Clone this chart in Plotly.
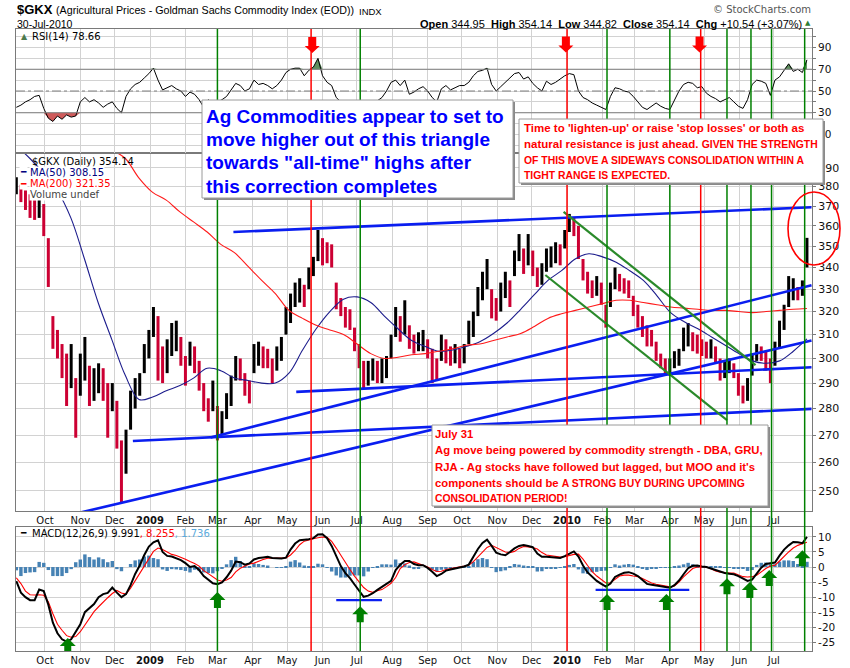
import math
import pandas as pd
import plotly.graph_objects as go

# ------------------------------------------------------------------ data
bar_dates = pd.date_range("2008-09-06", "2010-07-30", periods=174)

price_hi = [
    385, 381, 378, 376, 373, 374, 371, 354, 318, 312,
    306, 302, 306, 292, 302, 309, 297, 296, 298, 296,
    290, 290, 283, 268, 272, 287, 292, 294, 306, 312,
    322, 318, 305, 308, 315, 316, 309, 301, 307, 305,
    299, 290, 284, 291, 281, 279, 286, 293, 301, 300,
    294, 291, 306, 307, 305, 304, 300, 305, 309, 322,
    328, 333, 335, 332, 340, 345, 358, 354, 352, 351,
    333, 326, 322, 321, 313, 306, 299, 299, 300, 299,
    300, 301, 310, 322, 318, 325, 314, 310, 311, 312,
    308, 304, 300, 310, 308, 305, 306, 304, 306, 316,
    320, 331, 338, 344, 330, 326, 333, 338, 334, 348,
    356, 349, 356, 348, 340, 342, 349, 350, 352, 351,
    358, 366, 364, 360, 344, 338, 334, 336, 333, 323,
    333, 340, 337, 335, 334, 327, 323, 318, 314, 312,
    307, 302, 300, 300, 303, 304, 313, 315, 311, 310,
    308, 307, 308, 305, 300, 299, 300, 298, 294, 289,
    292, 302, 306, 305, 303, 300, 307, 316, 323, 336,
    335, 331, 334, 354.14,
]
price_lo = [
    376, 372, 368, 364, 363, 364, 355, 331, 304, 300,
    292, 281, 288, 269, 285, 291, 281, 283, 286, 283,
    269, 279, 265, 246, 256, 272, 280, 285, 294, 300,
    309, 291, 290, 294, 301, 303, 297, 289, 297, 294,
    287, 279, 275, 279, 268, 270, 276, 281, 291, 291,
    285, 282, 294, 297, 296, 296, 290, 295, 299, 310,
    315, 322, 324, 322, 330, 336, 343, 341, 342, 340,
    321, 318, 313, 312, 303, 296, 288, 289, 291, 290,
    290, 292, 300, 309, 307, 310, 304, 302, 303, 303,
    300, 290, 291, 299, 298, 297, 298, 296, 298, 306,
    309, 318, 325, 330, 317, 316, 320, 326, 322, 336,
    343, 337, 341, 336, 331, 332, 338, 340, 342, 341,
    349, 357, 355, 344, 334, 328, 326, 327, 323, 313,
    322, 330, 329, 328, 326, 318, 313, 309, 305, 305,
    299, 296, 293, 293, 296, 297, 303, 305, 303, 302,
    301, 300, 300, 298, 291, 292, 294, 292, 285, 282,
    283, 293, 299, 299, 295, 290, 297, 304, 312, 322,
    325, 325, 327, 340,
]
rsi14 = [
    35, 37, 40, 42, 45, 46, 34, 25, 22, 27,
    24, 28, 26, 27, 40, 44, 40, 42, 39, 35,
    38, 40, 34, 30, 45, 52, 56, 58, 62, 66,
    71, 60, 51, 53, 55, 52, 50, 45, 49, 47,
    42, 35, 42, 38, 40, 42, 45, 51, 57, 55,
    50, 52, 60, 56, 57, 55, 52, 55, 60, 67,
    70, 71, 71, 64, 69, 72, 80, 64, 58, 55,
    44, 40, 38, 36, 34, 32, 30, 33, 37, 41,
    44, 50, 58, 60, 55, 60, 47, 49, 52, 54,
    50, 44, 40, 52, 55, 51, 53, 55, 55, 58,
    64, 68, 69, 71, 56, 50, 54, 58, 62, 66,
    67, 61, 63, 57, 53, 50, 59, 56, 58, 61,
    64, 66, 65, 50, 44, 42, 39, 37, 35, 33,
    45, 53, 52, 50, 49, 45, 40, 35, 33, 36,
    39, 36, 34, 33, 42, 50, 56, 58, 57, 53,
    54, 48, 45, 43, 40, 42, 44, 40, 36, 34,
    42, 56, 60, 59, 57, 46, 60, 63, 69, 75,
    68, 70, 67, 78.66,
]
macd_line = [
    -4.7, -8.5, -10, -11, -11, -7.5, -8, -12.5, -18.5, -22,
    -24, -24.8, -24, -21.5, -19, -15, -13.5, -12.3, -10, -9,
    -8.6, -6.8, -8.5, -10, -9, -6, -2.3, 0.5, 4, 6.8,
    8.2, 8.9, 5, 3.7, 3.5, 3, 2.3, 1.3, 0, 0.3,
    -1, -3, -4.2, -5.4, -5.7, -5.1, -3.4, -1.2, 1.8, 1.6,
    0.8, 1.2, 2.5, 3, 3.2, 3.4, 3, 2.9, 2.8, 3.1,
    5.8, 7.8, 8.9, 9.1, 9.2, 9.6, 10.8, 10.9, 9.6, 7,
    3.5, 0.3, -2, -3.7, -5.8, -7.8, -9.9, -9.5, -8.7, -7.6,
    -6.6, -5.6, -4.6, -1, 0.8, 2, 2, 1, 0.6, 0.6,
    -0.3, -1.6, -3, -2.3, -1.2, -0.8, -0.5, -0.3, 0.2, 0.8,
    3.5, 6, 8, 9.1, 7, 4.8, 4.2, 3.9, 5, 6.2,
    7, 7.3, 7, 6.6, 4.5, 3.4, 3.4, 3.3, 3, 3,
    3.6, 4.5, 5.2, 3.5, 0.5, -1.8, -3.2, -4.6, -5.6, -6.5,
    -5.5, -3.3, -2.5, -1.9, -1.7, -2.2, -3, -4.3, -5.6, -5.9,
    -6.1, -6.3, -6.7, -6.9, -6, -4.5, -2.4, -0.4, 0.4, 0.5,
    0.2, 0, -0.5, -1, -1.5, -2, -2.2, -2.4, -3, -3.8,
    -4.6, -4.2, -2, -0.2, 1, 1.2, 1.5, 3.8, 5.8, 7.2,
    8.3, 8.2, 7.9, 9.991,
]
macd_signal = [
    -3.6, -5.5, -8, -9.2, -9.3, -9.2, -9.4, -11.5, -15.5, -19,
    -21, -22.8, -23.3, -23.1, -21.5, -19.2, -16.8, -14.8, -13.2, -11.6,
    -10.2, -8.8, -7.8, -8.6, -9, -7, -4.5, -2, 0.5, 3,
    5.2, 6.3, 5.8, 5, 4.2, 3.8, 3.3, 2.6, 1.8, 1.2,
    0.3, -1.2, -2.2, -3.3, -4.3, -4.7, -4.3, -3.5, -1.6, -0.4,
    0.4, 1, 1.3, 2, 2.5, 2.9, 3, 3, 3, 3,
    4, 5.5, 7.4, 8.6, 9.1, 9.4, 9.7, 10, 9.9, 8.5,
    6.3, 3.8, 1.5, -0.8, -3, -5, -6.8, -8, -8.4, -7.9,
    -7.5, -6.5, -5.4, -3.5, -0.5, 0.8, 1.5, 1.7, 1.2, 0.6,
    0, -0.8, -1.5, -1.4, -0.8, -0.5, -0.2, 0, 0.3, 0.6,
    1.8, 3.4, 5, 6.5, 7.2, 6.5, 5.6, 5, 4.8, 5.2,
    6.2, 6.8, 6.7, 6.5, 6, 4.8, 4, 3.8, 3.5, 3.3,
    3.4, 3.8, 4.2, 4.3, 2.6, 0.5, -1.5, -3, -4.3, -5.3,
    -5.2, -4.2, -3, -2.7, -2.7, -3, -3.2, -3.8, -4.6, -5.3,
    -5.7, -6, -6.4, -6.6, -6.3, -5, -3.3, -1.8, -0.5, 0,
    0.1, 0, -0.6, -1.3, -1.7, -1.9, -2, -2, -2.6, -3.2,
    -3.3, -3.2, -2.7, -1.6, -0.5, 0.3, 0.6, 2, 3.6, 5,
    6.3, 7.2, 7.7, 8.255,
]

ma_dates = pd.date_range("2008-09-06", "2010-07-30", periods=59)
ma50 = [
    402, 395, 387, 378, 364, 344, 324, 308, 293, 283.5,
    284.5, 287, 289, 292, 296, 295, 292, 291, 290, 290,
    294, 303.5, 312.5, 320, 325.5, 326.5, 324, 318, 312.5, 307.5,
    305, 303, 303.5, 305, 307, 310.5, 315, 321, 327.5, 334,
    338.5, 344, 346.5, 345, 342.5, 338.5, 334, 327, 319.5, 315.5,
    312.5, 309, 305.5, 302, 299, 298, 299, 303, 308.15,
]
ma200 = [
    440, 435, 430, 424, 418, 412, 406, 400, 395, 384.5,
    377, 373, 367, 362, 357, 351, 347, 340.5, 334, 328,
    320.5, 317, 314, 312, 310, 306, 302, 300, 300.5, 301.5,
    302, 303, 304, 305.5, 306, 307.5, 309, 310.5, 313.5, 317,
    319, 320.5, 322, 323.5, 325, 325, 324, 323, 322, 321.5,
    321, 320.5, 320.5, 320, 319.5, 320, 320.5, 321, 321.35,
]

month_ticks = pd.date_range("2008-10-01", "2010-07-01", freq="MS")
month_labels = [f"<b>{d.year}</b>" if d.month == 1 else d.strftime("%b") for d in month_ticks]
price_ticks = list(range(250, 400, 10))
rsi_ticks = list(range(0, 101, 10))
rsi_labels = [str(v) if v in (10, 30, 50, 70, 90) else "" for v in rsi_ticks]
macd_ticks = list(range(-25, 11, 5))

green_marks = ["2009-03-01", "2009-07-04", "2010-02-05", "2010-04-01",
               "2010-05-21", "2010-06-11", "2010-06-29", "2010-07-28"]
red_marks = ["2009-05-22", "2010-01-01", "2010-04-28"]
rsi_sell_arrows = [("2009-05-23", 85.0), ("2009-12-31", 85.5), ("2010-04-27", 85.5)]
macd_buy_arrows = [("2008-10-21", -23.6), ("2009-03-01", -8.3), ("2009-07-04", -13.0),
                   ("2010-02-05", -9.0), ("2010-03-29", -9.0), ("2010-05-21", -3.7),
                   ("2010-06-10", -5.0), ("2010-06-27", -1.0), ("2010-07-26", 5.6)]
blue_trendlines = [
    (("2009-03-15", 357.0), ("2010-08-03", 369.4)),
    (("2009-05-09", 286.5), ("2010-08-03", 296.4)),
    (("2008-12-17", 267.8), ("2010-08-03", 279.9)),
    (("2009-02-23", 269.1), ("2010-08-03", 331.8)),
    (("2008-10-12", 240.9), ("2010-08-03", 307.5)),
]
green_trendlines = [
    (("2009-12-29", 367.0), ("2010-06-15", 297.3)),
    (("2009-12-13", 336.5), ("2010-05-21", 275.6)),
]
macd_levels = [
    (("2009-06-13", -11.0), ("2009-07-23", -11.0)),
    (("2010-01-26", -7.6), ("2010-04-18", -7.6)),
]

# ------------------------------------------------------------------ styling helpers
W, H = 850, 668
ML, MR, MT, MB = 16, 38, 29, 17
PW, PH = W - ML - MR, H - MT - MB


def PX(x):
    return (x - ML) / PW


def PY(y):
    return (H - MB - y) / PH


GRID = "#d2d2d2"
AXC = "#7a7a7a"
UP = "#000000"
DOWN = "#cc0033"

fig = go.Figure()

# ---------------- RSI panel
fig.add_trace(go.Scatter(x=bar_dates, y=[70] * len(rsi14), mode="lines", line=dict(width=0),
                         xaxis="x3", yaxis="y3", hoverinfo="skip"))
fig.add_trace(go.Scatter(x=bar_dates, y=[max(v, 70) for v in rsi14], mode="lines", line=dict(width=0),
                         fill="tonexty", fillcolor="#5f8f5f", xaxis="x3", yaxis="y3", hoverinfo="skip"))
fig.add_trace(go.Scatter(x=bar_dates, y=[30] * len(rsi14), mode="lines", line=dict(width=0),
                         xaxis="x3", yaxis="y3", hoverinfo="skip"))
fig.add_trace(go.Scatter(x=bar_dates, y=[min(v, 30) for v in rsi14], mode="lines", line=dict(width=0),
                         fill="tonexty", fillcolor="#cf5b5b", xaxis="x3", yaxis="y3", hoverinfo="skip"))
fig.add_trace(go.Scatter(x=bar_dates, y=rsi14, mode="lines", line=dict(color="#000", width=1),
                         xaxis="x3", yaxis="y3"))

# ---------------- price panel
up_x, up_y, dn_x, dn_y = [], [], [], []
for i, d in enumerate(bar_dates):
    mid = price_hi[i] + price_lo[i]
    prev = price_hi[i - 1] + price_lo[i - 1] if i else mid
    if mid >= prev:
        up_x += [d, d, None]
        up_y += [price_lo[i], price_hi[i], None]
    else:
        dn_x += [d, d, None]
        dn_y += [price_lo[i], price_hi[i], None]
fig.add_trace(go.Scatter(x=up_x, y=up_y, mode="lines", line=dict(color=UP, width=3),
                         xaxis="x2", yaxis="y2"))
fig.add_trace(go.Scatter(x=dn_x, y=dn_y, mode="lines", line=dict(color=DOWN, width=3),
                         xaxis="x2", yaxis="y2"))
fig.add_trace(go.Scatter(x=ma_dates, y=ma50, mode="lines", line=dict(color="#1c1c8c", width=1.1, shape="spline"),
                         xaxis="x2", yaxis="y2"))
fig.add_trace(go.Scatter(x=ma_dates, y=ma200, mode="lines", line=dict(color="#ff1a1a", width=1.1, shape="spline"),
                         xaxis="x2", yaxis="y2"))
for (a, b) in blue_trendlines:
    fig.add_trace(go.Scatter(x=[a[0], b[0]], y=[a[1], b[1]], mode="lines",
                             line=dict(color="#0a1ef0", width=2.6), xaxis="x2", yaxis="y2"))
for (a, b) in green_trendlines:
    fig.add_trace(go.Scatter(x=[a[0], b[0]], y=[a[1], b[1]], mode="lines",
                             line=dict(color="#2a8a2a", width=2.2), xaxis="x2", yaxis="y2"))

# ---------------- MACD panel
hist = [m - s for m, s in zip(macd_line, macd_signal)]
fig.add_trace(go.Bar(x=bar_dates, y=hist, width=3 * 86400000, marker=dict(color="#4682b4", line=dict(width=0)),
                     xaxis="x", yaxis="y"))
fig.add_trace(go.Scatter(x=bar_dates, y=macd_signal, mode="lines", line=dict(color="#ff0000", width=1.1),
                         xaxis="x", yaxis="y"))
fig.add_trace(go.Scatter(x=bar_dates, y=macd_line, mode="lines", line=dict(color="#000", width=2),
                         xaxis="x", yaxis="y"))
for (a, b) in macd_levels:
    fig.add_trace(go.Scatter(x=[a[0], b[0]], y=[a[1], b[1]], mode="lines",
                             line=dict(color="#0a1ef0", width=2.2), xaxis="x", yaxis="y"))

# ------------------------------------------------------------------ shapes
shapes = []
for v, dash in ((70, "solid"), (30, "solid"), (50, "dashdot")):
    shapes.append(dict(type="line", xref="paper", x0=0, x1=1, yref="y3", y0=v, y1=v,
                       line=dict(color="#808080", width=1, dash=dash), layer="above"))
for d in green_marks:
    shapes.append(dict(type="line", xref="x", yref="paper", x0=d, x1=d, y0=0, y1=1,
                       line=dict(color="#008000", width=1.5), layer="above"))
for d in red_marks:
    shapes.append(dict(type="line", xref="x", yref="paper", x0=d, x1=d, y0=0, y1=1,
                       line=dict(color="#ff0000", width=1.5), layer="above"))
DOWN_ARROW = "M -4,16 L 4,16 L 4,7 L 7.5,7 L 0,0 L -7.5,7 L -4,7 Z"
UP_ARROW = "M -3.5,-16 L 3.5,-16 L 3.5,-8 L 8,-8 L 0,0 L -8,-8 L -3.5,-8 Z"
for d, v in rsi_sell_arrows:
    shapes.append(dict(type="path", xref="x3", yref="y3", xsizemode="pixel", ysizemode="pixel",
                       xanchor=d, yanchor=v, path=DOWN_ARROW, fillcolor="#ff0000",
                       line=dict(width=0), layer="above"))
for d, v in macd_buy_arrows:
    shapes.append(dict(type="path", xref="x", yref="y", xsizemode="pixel", ysizemode="pixel",
                       xanchor=d, yanchor=v, path=UP_ARROW, fillcolor="#008000",
                       line=dict(width=0), layer="above"))
# red ellipse
shapes.append(dict(type="circle", xref="paper", yref="paper", x0=PX(788), x1=PX(840),
                   y0=PY(265), y1=PY(192), line=dict(color="#ff0000", width=1.6), layer="above"))
# text boxes
boxes = [(202, 100, 513, 198), (519, 119, 823, 183), (432, 425, 768, 506)]
for (x0, y0, x1, y1) in boxes:
    shapes.append(dict(type="rect", xref="paper", yref="paper", x0=PX(x0 + 2), x1=PX(x1 + 2),
                       y0=PY(y1 + 2), y1=PY(y0 + 2), fillcolor="#8a8a8a", line=dict(width=0), layer="above"))
    shapes.append(dict(type="rect", xref="paper", yref="paper", x0=PX(x0), x1=PX(x1),
                       y0=PY(y1), y1=PY(y0), fillcolor="#ffffff", line=dict(color="#9a9a9a", width=1),
                       layer="above"))

# ------------------------------------------------------------------ annotations
ann = []


def add_text(text, x, y, size, color="#000", family="Liberation Sans", xanchor="left", bg=None):
    ann.append(dict(text=text, x=PX(x), y=PY(y), xref="paper", yref="paper", xanchor=xanchor,
                    yanchor="middle", showarrow=False, borderpad=0,
                    font=dict(family=family, size=size, color=color),
                    bgcolor=bg if bg else "rgba(0,0,0,0)"))


def caps(t, size):
    return f"<span style='font-size:{size}px'>{t}</span>"


add_text("<b>$GKX</b>", 16, 10, 13)
add_text("(Agricultural Prices - Goldman Sachs Commodity Index (EOD))", 55, 10.5, 10.7)
add_text("INDX", 358, 11, 9.5)
add_text("30-Jul-2010", 16, 23.5, 10.5)
add_text("<b>Open</b> 344.95  <b>High</b> 354.14  <b>Low</b> 344.82  <b>Close</b> 354.14  "
         "<b>Chg</b> +10.54 (+3.07%)", 803, 23.5, 11, xanchor="right")
add_text("▲", 808, 23, 7, color="#2e7d32", family="DejaVu Sans", xanchor="center")
add_text("© StockCharts.com", 812, 10, 10, color="#555", family="DejaVu Sans", xanchor="right")

LEG = "DejaVu Sans"
add_text("▲", 24, 36.5, 8, color="#4d7a4d", family=LEG, xanchor="center")
add_text("RSI(14) 78.66", 31, 36.5, 10, family=LEG)

add_text("$GKX (Daily) 354.14", 31, 161.5, 10, family=LEG)
add_text("━", 19, 172.5, 9, color="#000080", family=LEG, bg="#ffffff")
add_text("MA(50) 308.15", 29, 172.5, 10, color="#000080", family=LEG, bg="#ffffff")
add_text("━", 19, 183.5, 9, color="#ff0000", family=LEG, bg="#ffffff")
add_text("MA(200) 321.35", 29, 183.5, 10, color="#ff0000", family=LEG, bg="#ffffff")
add_text("Volume undef", 29, 194.5, 10, color="#444", family=LEG, bg="#ffffff")

add_text("━", 19, 533, 9, family=LEG)
add_text("MACD(12,26,9) 9.991<span style='color:#ff0000'>, 8.255</span>"
         "<span style='color:#5aa9dc'>, 1.736</span>", 31, 533, 10, family=LEG)

box1_lines = ["Ag Commodities appear to set to", "move higher out of this triangle",
              'towards "all-time" highs after', "this correction completes"]
for t, y in zip(box1_lines, [116.5, 139.5, 163, 186]):
    add_text("<b>" + t + "</b>", 205, y, 19, color="#0000ff")

C2 = 10.4
box2_lines = ["Time to 'lighten-up' or raise 'stop losses' or both as",
              "natural resistance is just ahead. " + caps("GIVEN THE STRENGTH", C2),
              caps("OF THIS MOVE A SIDEWAYS CONSOLIDATION WITHIN A", C2),
              caps("TIGHT RANGE IS EXPECTED.", C2)]
for t, y in zip(box2_lines, [128, 144, 160, 176]):
    add_text("<b>" + t + "</b>", 522.5, y, 11.5, color="#ff0000")

C3 = 10.4
box3_lines = ["July 31",
              "Ag move being powered by commodity strength - DBA, GRU,",
              "RJA - Ag stocks have followed but lagged, but MOO and it's",
              "components should be " + caps("A STRONG BUY DURING UPCOMING", C3),
              caps("CONSOLIDATION PERIOD!", C3)]
for t, y in zip(box3_lines, [433.5, 450.5, 466.5, 482.5, 498.5]):
    add_text("<b>" + t + "</b>", 434, y, 11.3, color="#ff0000")

# ------------------------------------------------------------------ axes
x_range = ["2008-09-05 17:00", "2010-08-03 10:00"]
common_x = dict(type="date", range=x_range, tickmode="array", tickvals=list(month_ticks),
                ticktext=month_labels, showgrid=True, gridcolor=GRID, gridwidth=1,
                showline=True, linecolor=AXC, linewidth=1, mirror=True, ticks="",
                zeroline=False, automargin=False,
                tickfont=dict(family="DejaVu Sans", size=10, color="#111"))
common_y = dict(side="right", showgrid=True, gridcolor=GRID, gridwidth=1, showline=True,
                linecolor=AXC, linewidth=1, mirror=True, ticks="outside", ticklen=3,
                tickcolor=AXC, zeroline=False, automargin=False,
                tickfont=dict(family="DejaVu Sans", size=10.5, color="#111"))

fig.update_layout(
    width=W, height=H,
    margin=dict(l=ML, r=MR, t=MT, b=MB, pad=0, autoexpand=False),
    paper_bgcolor="#ffffff", plot_bgcolor="#ffffff",
    showlegend=False,
    xaxis=dict(**common_x, domain=[0, 1], anchor="y"),
    xaxis2=dict(**common_x, anchor="y2", matches="x"),
    xaxis3=dict(**{**common_x, "showticklabels": False}, anchor="y3", matches="x"),
    yaxis=dict(**common_y, domain=[0, PY(527)], range=[-27.9, 13.3], tickmode="array",
               tickvals=macd_ticks, ticktext=[str(v) for v in macd_ticks], anchor="x"),
    yaxis2=dict(**{**common_y, "tickfont": dict(family="DejaVu Sans", size=11, color="#111")},
                domain=[PY(511), PY(153)], type="log",
                range=[math.log10(243.2), math.log10(398.0)], tickmode="array",
                tickvals=price_ticks, ticktext=[str(v) for v in price_ticks], anchor="x2"),
    yaxis3=dict(**common_y, domain=[PY(153), 1], range=[-7, 107], tickmode="array",
                tickvals=rsi_ticks, ticktext=rsi_labels, anchor="x3"),
    shapes=shapes,
    annotations=ann,
)

fig.write_html("out.html")
